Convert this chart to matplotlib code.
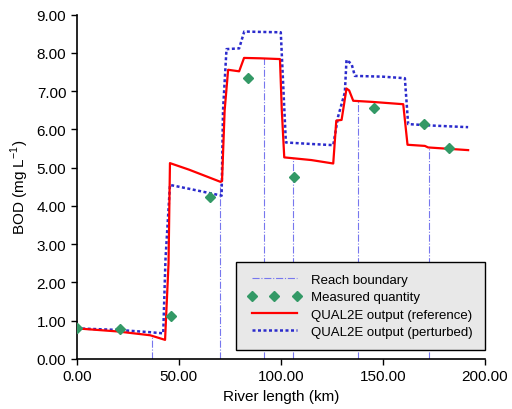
import numpy as np
import matplotlib
matplotlib.use("Agg")
import matplotlib.pyplot as plt

plt.rcParams['font.family'] = ['Liberation Sans', 'DejaVu Sans']

# QUAL2E output, reference run (km, mg/L)
ref_km = [0.0, 20.0, 36.0, 43.3, 45.0, 45.7, 55.0, 70.5, 71.2, 72.5, 74.2, 79.6, 82.0,
          90.0, 99.6, 100.5, 101.7, 115.0, 125.7, 127.2, 129.8, 132.2, 133.5,
          135.5, 145.0, 160.0, 162.1, 170.6, 172.2, 191.8]
ref_bod = [0.80, 0.72, 0.62, 0.50, 2.50, 5.12, 4.95, 4.63, 4.65, 6.50, 7.56, 7.52, 7.87,
           7.86, 7.84, 6.50, 5.27, 5.20, 5.11, 6.23, 6.25, 7.07, 7.02,
           6.75, 6.72, 6.66, 5.60, 5.57, 5.53, 5.46]

# QUAL2E output, perturbed run
per_km = [0.0, 20.0, 36.0, 42.4, 43.5, 45.7, 55.0, 71.0, 71.7, 73.4, 79.6, 82.1,
          90.0, 100.0, 101.5, 102.5, 115.0, 125.7, 128.1, 131.4, 132.2, 134.7,
          136.3, 150.0, 160.8, 162.4, 175.0, 191.8]
per_bod = [0.80, 0.76, 0.70, 0.67, 2.60, 4.55, 4.45, 4.27, 6.50, 8.10, 8.12, 8.56,
           8.55, 8.54, 6.80, 5.66, 5.62, 5.59, 6.34, 6.97, 7.82, 7.71,
           7.40, 7.38, 7.34, 6.14, 6.10, 6.06]

# measured BOD
meas_km = [0.0, 21.2, 46.2, 65.3, 84.1, 106.6, 145.8, 170.4, 182.2]
meas_bod = [0.81, 0.78, 1.12, 4.24, 7.34, 4.77, 6.56, 6.15, 5.51]

# reach boundaries (km)
reach_km = [36.7, 70.2, 91.7, 106.1, 137.9, 172.5]

fig = plt.figure(figsize=(5.12, 4.10), dpi=100)
ax = fig.add_axes([0.1498, 0.122, 0.7972, 0.8397])

reach_top = np.interp(reach_km, ref_km, ref_bod)
for i, (xk, yt) in enumerate(zip(reach_km, reach_top)):
    ax.plot([xk, xk], [0, yt], color="#7777ee", lw=0.8, ls="-.",
            label="Reach boundary" if i == 0 else None, zorder=1)

ax.plot(meas_km, meas_bod, ls="none", marker="D", ms=5, color="#339966",
        label="Measured quantity", zorder=4)
ax.plot(ref_km, ref_bod, color="#ff0000", lw=1.6,
        label="QUAL2E output (reference)", zorder=3)
ax.plot(per_km, per_bod, color="#2b2bcc", lw=1.8, ls=(0, (1.2, 1.0)),
        label="QUAL2E output (perturbed)", zorder=2)

ax.set_xlim(0, 200)
ax.set_ylim(0, 9)
ax.set_xticks(np.arange(0, 201, 50))
ax.set_yticks(np.arange(0, 9.01, 1))
ax.xaxis.set_major_formatter(matplotlib.ticker.FormatStrFormatter("%.2f"))
ax.yaxis.set_major_formatter(matplotlib.ticker.FormatStrFormatter("%.2f"))
ax.tick_params(labelsize=11, length=4, width=1, color="black")
for s in ["top", "right"]:
    ax.spines[s].set_visible(False)
ax.spines["left"].set_linewidth(1.2)
ax.spines["bottom"].set_linewidth(1.2)

ax.set_xlabel("River length (km)", fontsize=11)
ax.set_ylabel("BOD (mg L$^{\\mathregular{-1}}$)", fontsize=11)

leg = ax.legend(loc="lower right", bbox_to_anchor=(1.0, 0.027), numpoints=3,
                fontsize=9.5, frameon=True, fancybox=False, handlelength=4.0,
                handletextpad=0.8, borderpad=0.9, labelspacing=0.38,
                borderaxespad=0)
leg.get_frame().set_facecolor("#e8e8e8")
leg.get_frame().set_edgecolor("black")
leg.get_frame().set_alpha(1)

fig.savefig("out.png", dpi=100)
